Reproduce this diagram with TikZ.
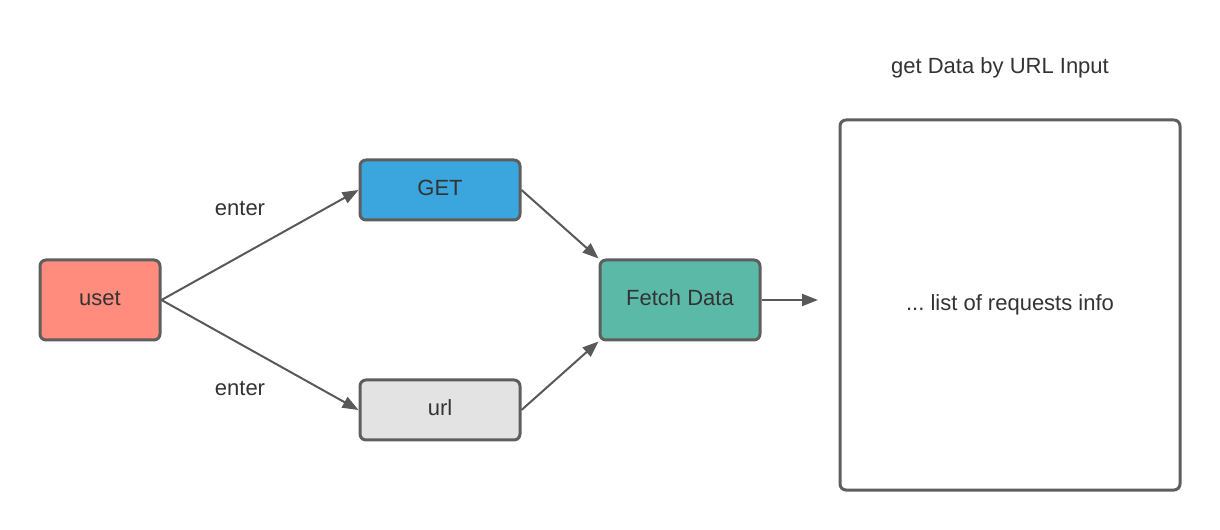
\documentclass[tikz,border=0pt]{standalone}
\usepackage{fontspec}
\setmainfont{Liberation Sans}
\frenchspacing
\usetikzlibrary{arrows.meta}
\definecolor{bordc}{HTML}{5E5E5E}
\definecolor{linec}{HTML}{595959}
\definecolor{txtc}{HTML}{333333}
\definecolor{redf}{HTML}{FF8C7D}
\definecolor{bluef}{HTML}{3AA6DD}
\definecolor{grayf}{HTML}{E3E3E3}
\definecolor{tealf}{HTML}{5BB9A7}
\tikzset{
  box/.style={draw=bordc, line width=2.25pt, rounded corners=4.5pt, minimum width=120pt, minimum height=45pt, inner sep=0pt, text=txtc, font=\fontsize{16.5}{19}\selectfont},
  conn/.style={draw=linec, line width=1.5pt, -{Triangle[length=12pt,width=9pt]}},
  lbl/.style={text=txtc, font=\fontsize{16.5}{19}\selectfont, inner sep=0pt},
}
\begin{document}
\begin{tikzpicture}[x=0.75pt,y=-0.75pt]
\useasboundingbox (0,0) rectangle (1220,530);
\node[box, fill=redf, minimum width=90pt, minimum height=60pt] (uset) at (100,300) {\raisebox{3pt}{uset}};
\node[box, fill=bluef] (get) at (440,190) {\raisebox{3pt}{GET}};
\node[box, fill=grayf] (url) at (440,410) {\raisebox{3pt}{url}};
\node[box, fill=tealf, minimum height=60pt] (fetch) at (680,300) {\raisebox{3pt}{Fetch Data}};
\node[box, fill=white, minimum width=255pt, minimum height=277.5pt] (list) at (1010,305) {\raisebox{1.5pt}{\frenchspacing ... list of requests info}};
\node[lbl] (title) at (1000,68) {get Data by URL Input};
\node[lbl] (e1) at (240,208) {enter};
\node[lbl] (e2) at (240,388) {enter};
\coordinate (fend) at (818,300);
\draw[conn] (uset.east) -- (get.west);
\draw[conn] (uset.east) -- (url.west);
\draw[conn] (get.east) -- (fetch.north west);
\draw[conn] (url.east) -- (fetch.south west);
\draw[conn] (fetch.east) -- (fend);
\end{tikzpicture}
\end{document}
